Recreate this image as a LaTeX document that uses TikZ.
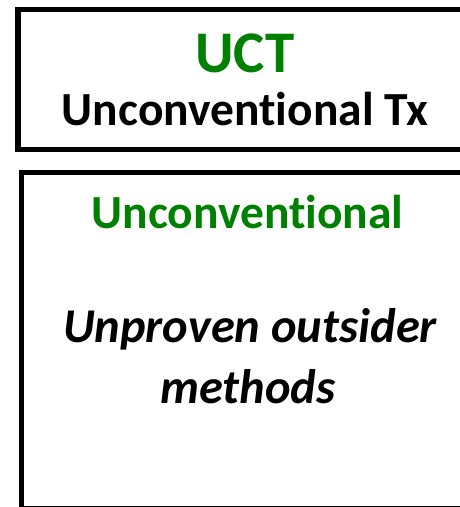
\documentclass[tikz,border=0pt]{standalone}
\usepackage{fontspec}
\setmainfont{Carlito}[RawFeature=-liga]
\usepackage{xcolor}
\usetikzlibrary{positioning}
\definecolor{uctgreen}{RGB}{0,128,0}

\begin{document}
\begin{tikzpicture}[x=1pt, y=-1pt,
  boxline/.style={draw=black, line width=5.5pt},
  headtxt/.style={anchor=base, inner sep=0pt, font=\bfseries\fontsize{59}{60}\selectfont, uctgreen},
  subtxt/.style={anchor=base, inner sep=0pt, font=\bfseries\fontsize{47.5}{50}\selectfont},
  bodytxt/.style={anchor=base, inner sep=0pt, font=\bfseries\itshape\fontsize{48.5}{61}\selectfont, align=center}]
\useasboundingbox (0,0) rectangle (460,507);
\clip (0,0) rectangle (460,507);
% ---- top panel ----
\draw[boxline] (18,9.5) rectangle (475,149.5);
\node[headtxt] (uct) at (245,72) {UCT};
\node[subtxt] (uctlong) at (245,125) {Unconventional Tx};
% ---- bottom panel ----
\draw[boxline] (21.5,172.5) rectangle (475,509);
\node[subtxt, uctgreen] (uncon) at (247.5,228) {Unconventional};
\node[bodytxt] (unproven) at (250,342) {Unproven outsider};
\node[bodytxt] (methods) at (248,403) {methods};
\end{tikzpicture}
\end{document}
